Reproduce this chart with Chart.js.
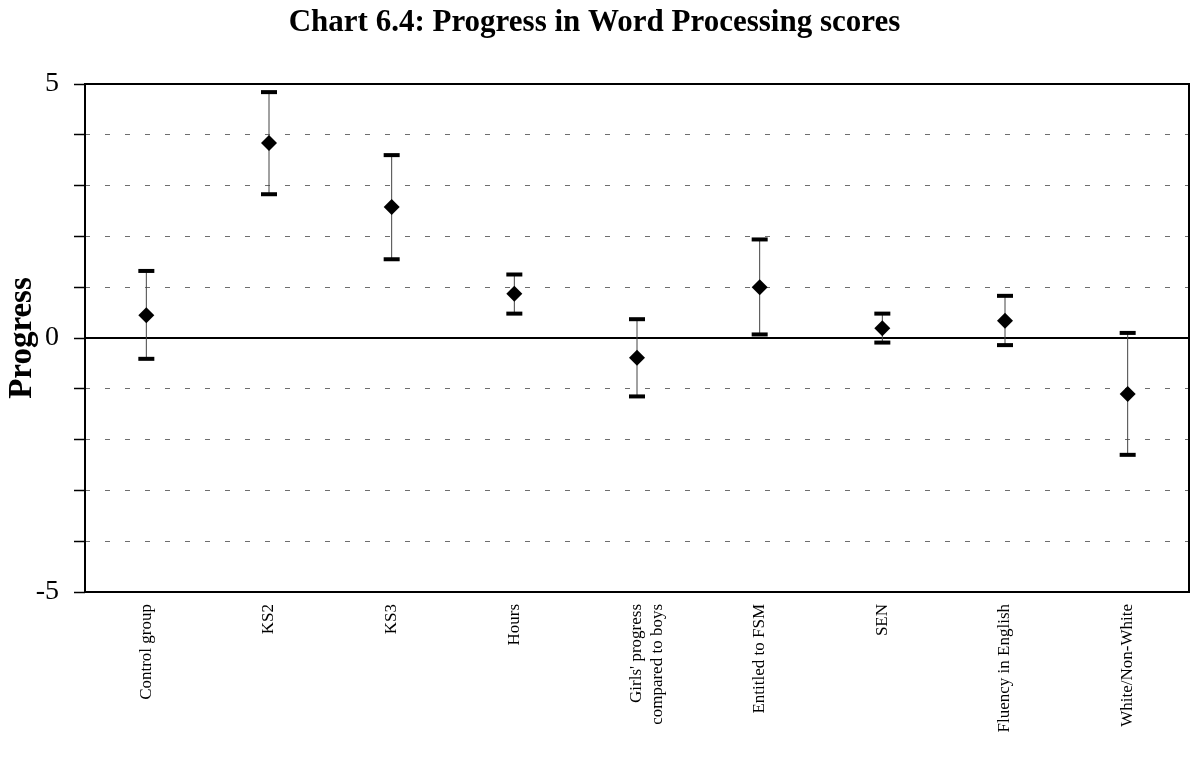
<!DOCTYPE html>
<html lang="en">
<head>
    <meta charset="UTF-8">
    <title>Chart 6.4</title>
    <script src="https://cdn.jsdelivr.net/npm/chart.js"></script>
    <style>
        html, body { margin: 0; padding: 0; background: #fff; }
        .chart-wrapper { width: 1203px; height: 760px; position: relative; }
    </style>
</head>
<body>
<div class="chart-wrapper">
    <canvas id="progressChart"></canvas>
</div>

<script>
    const categories = [
        'Control group', 'KS2', 'KS3', 'Hours',
        ["Girls' progress", 'compared to boys'],
        'Entitled to FSM', 'SEN', 'Fluency in English', 'White/Non-White'
    ];
    const estimate = [0.45, 3.84, 2.58, 0.87, -0.39, 1.00, 0.19, 0.34, -1.10];
    const upper    = [1.32, 4.84, 3.60, 1.25, 0.37, 1.94, 0.48, 0.83, 0.10];
    const lower    = [-0.41, 2.83, 1.55, 0.48, -1.15, 0.07, -0.09, -0.14, -2.30];
    const yTicks   = [-5, 0, 5];

    (function() {
        const serif = "'Liberation Serif', 'Times New Roman', serif";

        // whiskers, zero line and frame
        const errorBars = {
            id: 'errorBars',
            beforeDatasetsDraw(chart) {
                const { ctx, chartArea: a, scales: { x, y } } = chart;
                ctx.save();
                // zero line
                const y0 = y.getPixelForValue(0);
                ctx.strokeStyle = '#000';
                ctx.lineWidth = 2;
                ctx.beginPath();
                ctx.moveTo(a.left, y0);
                ctx.lineTo(a.right, y0);
                ctx.stroke();

                estimate.forEach((v, i) => {
                    const px = x.getPixelForValue(i);
                    const hi = y.getPixelForValue(upper[i]);
                    const lo = y.getPixelForValue(lower[i]);
                    ctx.strokeStyle = '#444';
                    ctx.lineWidth = 1;
                    ctx.beginPath();
                    ctx.moveTo(px, hi);
                    ctx.lineTo(px, lo);
                    ctx.stroke();
                    ctx.fillStyle = '#000';
                    ctx.fillRect(px - 8, hi - 2, 16, 4);
                    ctx.fillRect(px - 8, lo - 2, 16, 4);
                });

                ctx.strokeStyle = '#000';
                ctx.lineWidth = 2;
                ctx.strokeRect(a.left, a.top, a.right - a.left, a.bottom - a.top);
                ctx.restore();
            }
        };

        new Chart(document.getElementById('progressChart'), {
            type: 'line',
            data: {
                labels: categories,
                datasets: [{
                    data: estimate,
                    showLine: false,
                    pointStyle: 'rectRot',
                    pointRadius: 8,
                    pointHoverRadius: 8,
                    backgroundColor: '#000',
                    borderColor: '#000',
                    borderWidth: 0
                }]
            },
            options: {
                responsive: true,
                maintainAspectRatio: false,
                animation: false,
                layout: { padding: { left: 0, right: 14, top: 0, bottom: 0 } },
                plugins: {
                    legend: { display: false },
                    tooltip: { enabled: false },
                    title: {
                        display: true,
                        text: 'Chart 6.4: Progress in Word Processing scores',
                        color: '#000',
                        font: { family: serif, size: 31, weight: 'bold' },
                        padding: { top: 4, bottom: 42.8 }
                    }
                },
                scales: {
                    x: {
                        offset: true,
                        grid: { display: false, drawTicks: false },
                        border: { display: false },
                        ticks: {
                            color: '#000',
                            font: { family: serif, size: 17 },
                            minRotation: 90,
                            maxRotation: 90,
                            padding: 12
                        },
                        afterFit(scale) { scale.height = 168; }
                    },
                    y: {
                        min: -5,
                        max: 5,
                        border: { display: false, dash: [5, 15] },
                        grid: {
                            color: ctx => (ctx.tick.value === 0 || Math.abs(ctx.tick.value) === 5) ? 'rgba(0,0,0,0)' : '#6e6e6e',
                            lineWidth: 1,
                            tickColor: '#000',
                            tickLength: 11,
                            tickBorderDash: [],
                            tickWidth: 1.5
                        },
                        ticks: {
                            stepSize: 1,
                            color: '#000',
                            font: { family: serif, size: 28 },
                            padding: 15,
                            callback: v => yTicks.includes(v) ? String(v) : ''
                        },
                        title: {
                            display: true,
                            text: 'Progress',
                            color: '#000',
                            font: { family: serif, size: 33, weight: 'bold' },
                            padding: { top: 3, bottom: 0 }
                        },
                        afterFit(scale) { scale.width = 85; }
                    }
                }
            },
            plugins: [errorBars]
        });
    })();
</script>
</body>
</html>
